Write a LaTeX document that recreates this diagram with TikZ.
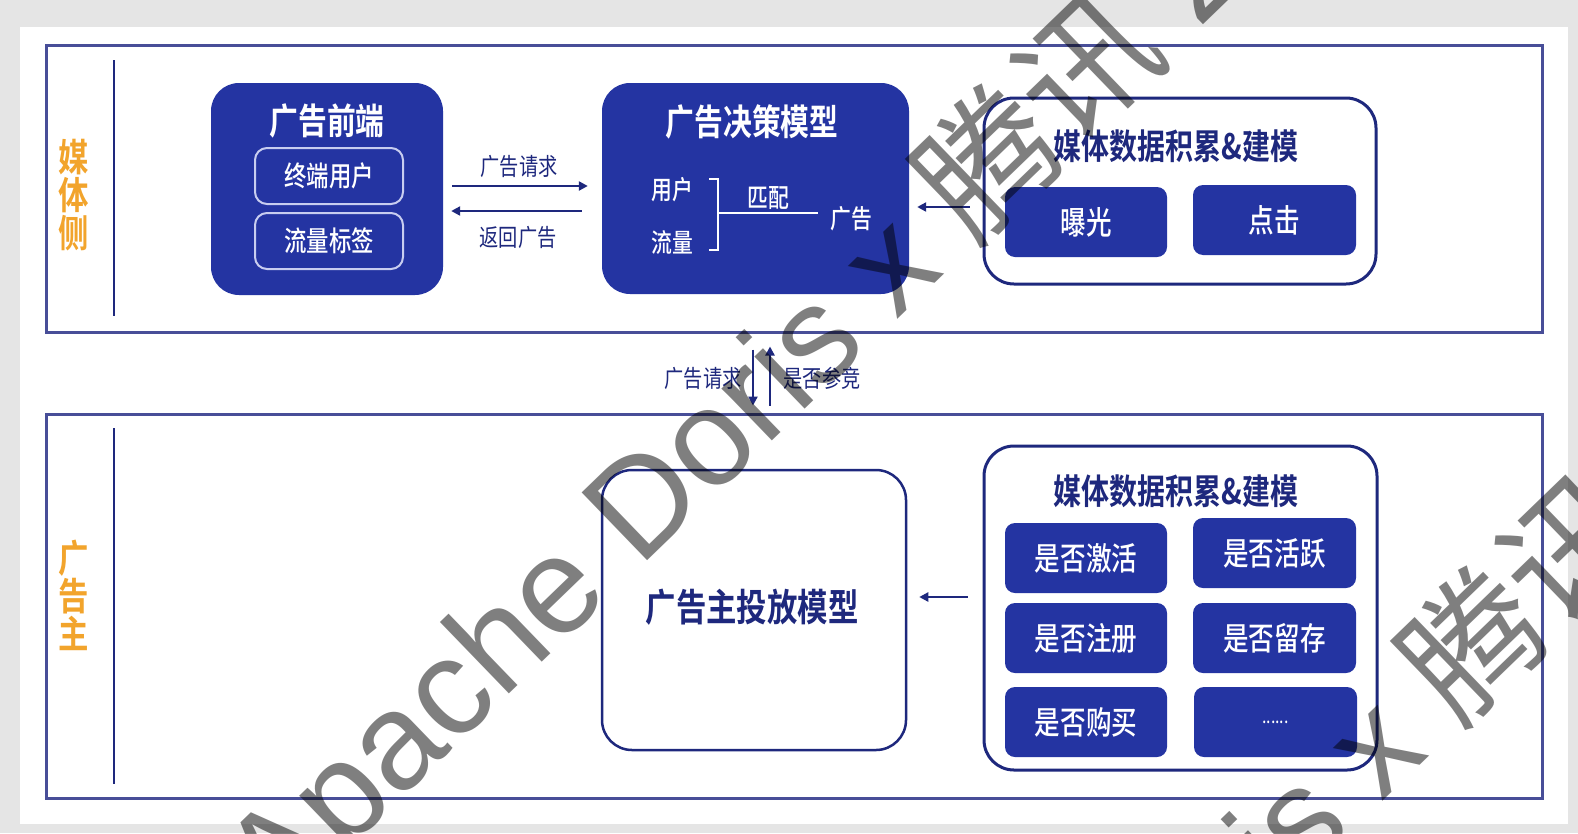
\documentclass[tikz,border=0pt]{standalone}
\usepackage{fontspec}
\newfontfamily\cjk{Noto Sans CJK SC}[FakeStretch=0.8]
\newfontfamily\cjkm{Noto Sans CJK SC Medium}[FakeStretch=0.8]
\newfontfamily\cjkb{Noto Sans CJK SC Bold}[FakeStretch=0.8]
\newfontfamily\cjkw{Noto Sans CJK SC}
\newfontfamily\wmfont{Liberation Sans}
\usetikzlibrary{arrows.meta}
\definecolor{bluefill}{RGB}{36,52,162}
\definecolor{navy}{RGB}{30,40,125}
\definecolor{framec}{RGB}{72,78,152}
\definecolor{orangec}{RGB}{242,164,44}
\definecolor{bggray}{RGB}{229,229,229}
\newcommand{\myfs}[1]{\fontsize{#1}{#1}\selectfont}
\tikzset{
  framebox/.style={draw=framec, line width=3pt, fill=white, inner sep=0},
  divline/.style={draw=navy, line width=2pt},
  bigblue/.style={fill=bluefill, rounded corners=28pt, inner sep=0},
  whitebox/.style={draw=navy, line width=3pt, fill=white, rounded corners=30pt, inner sep=0},
  innerbox/.style={draw={rgb,255:red,200;green,205;blue,240}, line width=2pt, rounded corners=12pt, inner sep=0, minimum width=148pt, minimum height=56pt, text=white, font=\cjkm\myfs{28}},
  cell/.style={fill=bluefill, rounded corners=10pt, inner sep=0, minimum height=70pt, text=white, font=\cjkm\myfs{32}},
  titlew/.style={text=white, font=\cjkb\myfs{36}, inner sep=0},
  titlen/.style={text=navy, font=\cjkb\myfs{35}, inner sep=0},
  lbl/.style={text=navy, font=\cjk\myfs{24}, inner sep=0},
  wlbl/.style={text=white, font=\cjkm\myfs{26}, inner sep=0},
  sidelabel/.style={text=orangec, font=\cjkb\myfs{38}, align=center, inner sep=0},
  arr/.style={draw=navy, line width=2.5pt, -{Triangle[length=9pt,width=9pt]}},
  wm/.style={text=black, text opacity=0.5, inner sep=0, anchor=base west, rotate=44}
}
\begin{document}
\begin{tikzpicture}[x=1pt,y=-1pt]
\useasboundingbox (0,0) rectangle (1578,833);
\fill[bggray] (0,0) rectangle (1578,833);
\fill[white] (20,27) rectangle (1568,824);

% frames
\node[framebox, minimum width=1496pt, minimum height=287pt] (ftop) at (794,188.5) {};
\node[framebox, minimum width=1496pt, minimum height=384pt] (fbot) at (794,606) {};
\draw[divline] (114,60) -- (114,316);
\draw[divline] (114,428) -- (114,784);
\node[sidelabel] (side1) at (74,195) {\baselineskip=45pt 媒\\体\\侧};
\node[sidelabel] (side2) at (74,595) {\baselineskip=43pt 广\\告\\主};

% ad front end
\node[bigblue, minimum width=232pt, minimum height=212pt] (fe) at (327,189) {};
\node[titlew] (fet) at (327,121) {广告前端};
\node[innerbox] (u1) at (329,176) {终端用户};
\node[innerbox] (u2) at (329,241) {流量标签};

% decision model
\node[bigblue, minimum width=307pt, minimum height=211pt] (dec) at (755.5,188.5) {};
\node[titlew] (dect) at (752,122) {广告决策模型};
\node[wlbl] (yh) at (672,190) {用户};
\node[wlbl] (ll) at (672,243) {流量};
\coordinate (bt) at (718,179);
\coordinate (bb) at (718,250);
\coordinate (bm) at (718,213);
\coordinate (le) at (818,213);
\draw[white, line width=1.8pt] ([xshift=-9pt]bt) -- (bt) -- (bb) -- ([xshift=-9pt]bb);
\draw[white, line width=1.8pt] (bm) -- (le);
\node[wlbl] (pp) at (768,198) {匹配};
\node[wlbl] (gg) at (851,219) {广告};

% arrows between fe and dec
\draw[arr, shorten <=9pt, shorten >=14pt] (fe.east |- 0,186) -- (dec.west |- 0,186);
\draw[arr, shorten <=20pt, shorten >=8pt] (dec.west |- 0,211) -- (fe.east |- 0,211);
\node[lbl] (l1) at (519,166) {广告请求};
\node[lbl] (l2) at (518,237) {返回广告};

% media data top
\node[whitebox, minimum width=392pt, minimum height=186pt] (mt) at (1180,191) {};
\node[titlen] (mtt) at (1176,146) {媒体数据积累\&建模};
\node[cell, minimum width=162pt] (c1) at (1086,222) {曝光};
\node[cell, minimum width=163pt] (c2) at (1274.5,220) {点击};
\draw[arr, shorten <=13pt, shorten >=8pt] (mt.west |- 0,207) -- (dec.east |- 0,207);

% middle arrows
\draw[arr, shorten <=16pt, shorten >=7pt] (ftop.south -| 753,0) -- (fbot.north -| 753,0);
\draw[arr, shorten <=7pt, shorten >=13pt] (fbot.north -| 770,0) -- (ftop.south -| 770,0);
\node[lbl] (l3) at (703,378) {广告请求};
\node[lbl] (l4) at (822,378) {是否参竞};

% advertiser model
\node[whitebox, line width=2.5pt, minimum width=304pt, minimum height=280pt] (am) at (754,610) {};
\node[titlen, font=\cjkb\myfs{38}] (amt) at (752,607) {广告主投放模型};

% media data bottom
\node[whitebox, minimum width=393pt, minimum height=324pt] (mb) at (1180.5,608) {};
\node[titlen] (mbt) at (1176,491) {媒体数据积累\&建模};
\node[cell, minimum width=162pt] (g1) at (1086,558) {是否激活};
\node[cell, minimum width=163pt] (g2) at (1274.5,553) {是否活跃};
\node[cell, minimum width=162pt] (g3) at (1086,638) {是否注册};
\node[cell, minimum width=163pt] (g4) at (1274.5,638) {是否留存};
\node[cell, minimum width=162pt] (g5) at (1086,722) {是否购买};
\node[cell, minimum width=163pt, font=\cjk\myfs{20}] (g6) at (1275.5,722) {......};
\draw[arr, shorten <=15pt, shorten >=12pt] (mb.west |- 0,597) -- (am.east |- 0,597);

% watermark
\begin{scope}
\clip (0,0) rectangle (1578,833);
\node[wm] (wm1) at (278,918) {\wmfont\myfs{137}Apache Doris x {\cjkw 腾讯} 2023};
\node[wm] (wm2) at (763,1400) {\wmfont\myfs{137}Apache Doris x {\cjkw 腾讯} 2023};
\end{scope}
\end{tikzpicture}
\end{document}
